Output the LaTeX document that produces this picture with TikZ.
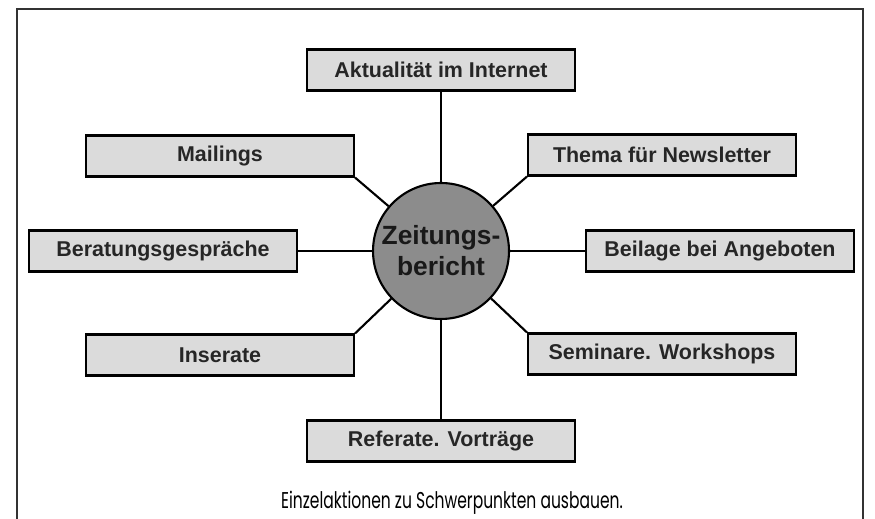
\documentclass[tikz,border=0pt]{standalone}
\usepackage{fontspec}
\setmainfont{Liberation Sans}
\newfontfamily\capfont{Poppins}
\usetikzlibrary{positioning}

\begin{document}
\begin{tikzpicture}[x=0.02cm, y=-0.02cm,
    topic/.style = {draw = black, line width = 1.2pt, fill = black!14,
                    minimum width = 5.36cm, minimum height = 0.82cm,
                    inner sep = 0pt, text = black!85,
                    font = \fontsize{12.2}{14}\selectfont\bfseries},
    hub/.style   = {circle, draw = black, line width = 1.2pt, fill = black!45,
                    minimum size = 2.72cm, inner sep = 0pt, align = center,
                    text = black!90, font = \fontsize{15}{17.6}\selectfont\bfseries},
    link/.style  = {draw = black, line width = 1.2pt}]
    	\useasboundingbox (0,0) rectangle (875,519);
    	\draw[draw = black!80, line width = 1.2pt] (17,519) -- (17,9) -- (863,9) -- (863,519);
    	\begin{scope}
    		\node[hub] at (441,251) (zb) {Zeitungs-\\bericht};
    		\node[topic] at (441,70) (akt) {Aktualität im Internet};
    		\node[topic] at (220,156) (mail) {Mailings};
    		\node[topic] at (662,155) (thema) {Thema für Newsletter};
    		\node[topic] at (163,251) (ber) {Beratungsgespräche};
    		\node[topic] at (720,251) (beil) {Beilage bei Angeboten};
    		\node[topic] at (220,355) (ins) {Inserate};
    		\node[topic] at (662,354) (sem) {Seminare. Workshops};
    		\node[topic] at (441,441) (ref) {Referate. Vorträge};
    		\node[anchor = base, inner sep = 0pt] at (452,509) (cap) {\scalebox{0.68}[1]{\capfont\fontsize{13}{15}\selectfont Einzelaktionen zu Schwerpunkten ausbauen.}};
    	\end{scope}
    	\draw[link] (akt) -- (zb);
    	\draw[link] (mail.south east) -- (zb);
    	\draw[link] (thema.south west) -- (zb);
    	\draw[link] (ber) -- (zb);
    	\draw[link] (beil) -- (zb);
    	\draw[link] (ins.north east) -- (zb);
    	\draw[link] (sem.north west) -- (zb);
    	\draw[link] (ref) -- (zb);
\end{tikzpicture}
\end{document}
